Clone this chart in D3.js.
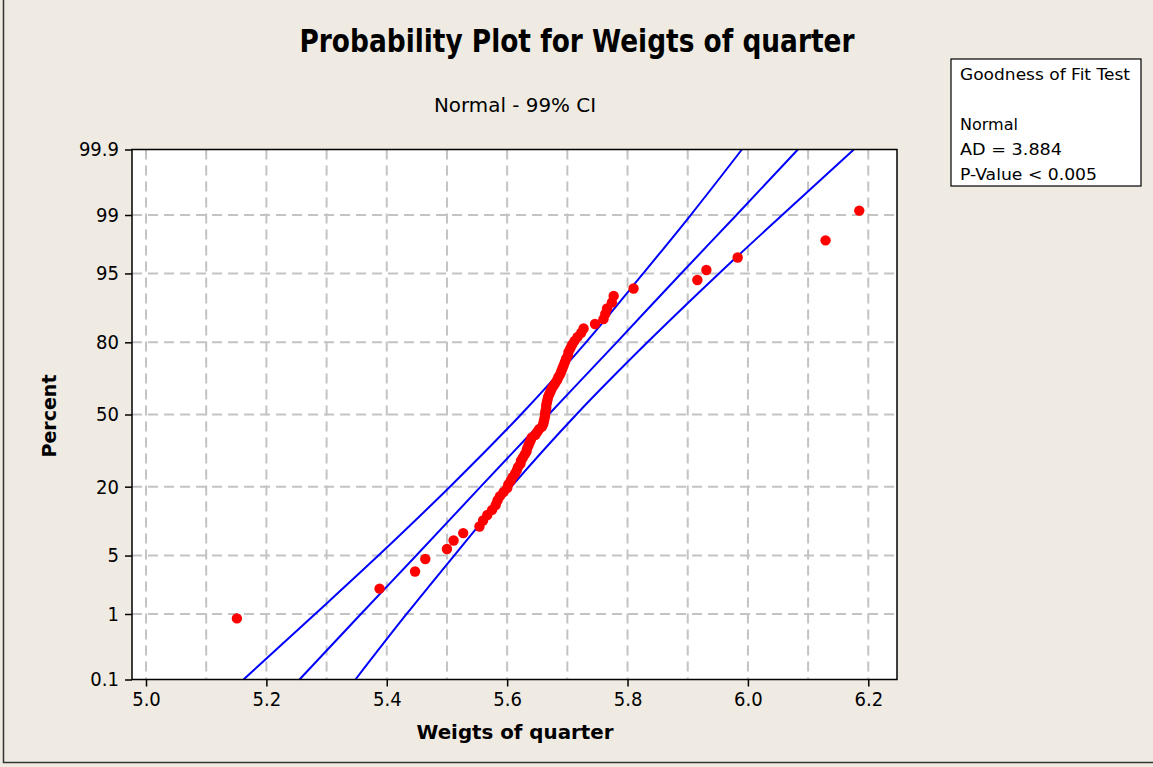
<!DOCTYPE html>
<html lang="en">
<head>
<meta charset="utf-8">
<title>Probability Plot for Weigts of quarter</title>
<script src="https://d3js.org/d3.v7.min.js"></script>
<style>
  body { margin: 0; background: #EFEBE2; }
  text { font-family: "DejaVu Sans", Verdana, sans-serif; fill: #000; }
</style>
</head>
<body>
<script type="text/javascript">

// sorted weights (g)
var weights = [5.151, 5.388, 5.447, 5.464, 5.500, 5.511, 5.527, 5.554, 5.560, 5.567,
               5.575, 5.581, 5.584, 5.588, 5.594, 5.600, 5.602, 5.606, 5.609, 5.613,
               5.616, 5.618, 5.622, 5.623, 5.626, 5.629, 5.632, 5.633, 5.635, 5.637,
               5.639, 5.641, 5.647, 5.650, 5.653, 5.658, 5.660, 5.661, 5.662, 5.663,
               5.663, 5.664, 5.665, 5.665, 5.666, 5.667, 5.668, 5.670, 5.672, 5.674,
               5.677, 5.680, 5.683, 5.685, 5.688, 5.690, 5.692, 5.694, 5.696, 5.698,
               5.701, 5.702, 5.705, 5.708, 5.712, 5.717, 5.723, 5.727, 5.746, 5.760,
               5.763, 5.766, 5.774, 5.777, 5.810, 5.916, 5.931, 5.983, 6.129, 6.185];

// fitted line and 99% CI bands, x read at each percent level
var linePercents = [0.1, 1, 5, 20, 50, 80, 95, 99, 99.9];
var fitX   = [5.255, 5.357, 5.449, 5.556, 5.669, 5.782, 5.889, 5.981, 6.083];
var lowerX = [5.162, 5.281, 5.386, 5.505, 5.623, 5.731, 5.826, 5.905, 5.990];
var upperX = [5.348, 5.433, 5.512, 5.607, 5.715, 5.833, 5.952, 6.057, 6.176];

var percentTicks = [0.1, 1, 5, 20, 50, 80, 95, 99, 99.9];
var xTicks = [5.0, 5.2, 5.4, 5.6, 5.8, 6.0, 6.2];
var xGrid = [5.0, 5.1, 5.2, 5.3, 5.4, 5.5, 5.6, 5.7, 5.8, 5.9, 6.0, 6.1, 6.2];

var legendLines = ["Goodness of Fit Test", "", "Normal", "AD = 3.884", "P-Value < 0.005"];

var w = 1153, h = 767;
var plotL = 132, plotR = 897, plotT = 149.5, plotB = 679.5;

// inverse normal cdf (Acklam)
function probit(p) {
  var a = [-3.969683028665376e+01, 2.209460984245205e+02, -2.759285104469687e+02, 1.383577518672690e+02, -3.066479806614716e+01, 2.506628277459239e+00];
  var b = [-5.447609879822406e+01, 1.615858368580409e+02, -1.556989798598866e+02, 6.680131188771972e+01, -1.328068155288572e+01];
  var c = [-7.784894002430293e-03, -3.223964580411365e-01, -2.400758277161838e+00, -2.549732539343734e+00, 4.374664141464968e+00, 2.938163982698783e+00];
  var d = [7.784695709041462e-03, 3.224671290700398e-01, 2.445134137142996e+00, 3.754408661907416e+00];
  var q, r;
  if (p < 0.02425) {
    q = Math.sqrt(-2 * Math.log(p));
    return (((((c[0]*q+c[1])*q+c[2])*q+c[3])*q+c[4])*q+c[5]) / ((((d[0]*q+d[1])*q+d[2])*q+d[3])*q+1);
  }
  if (p <= 1 - 0.02425) {
    q = p - 0.5; r = q * q;
    return (((((a[0]*r+a[1])*r+a[2])*r+a[3])*r+a[4])*r+a[5])*q / (((((b[0]*r+b[1])*r+b[2])*r+b[3])*r+b[4])*r+1);
  }
  q = Math.sqrt(-2 * Math.log(1 - p));
  return -(((((c[0]*q+c[1])*q+c[2])*q+c[3])*q+c[4])*q+c[5]) / ((((d[0]*q+d[1])*q+d[2])*q+d[3])*q+1);
}

var x = d3.scaleLinear().domain([5.0 - 14 / 601.5, 6.2477]).range([plotL, plotR]);
var z = d3.scaleLinear().domain([probit(0.001), probit(0.999)]).range([plotB, plotT]);
function yp(pct) { return z(probit(pct / 100)); }

var svg = d3.select("body").append("svg")
  .attr("width", w).attr("height", h);

svg.append("rect").attr("width", w).attr("height", h).attr("fill", "#EFEBE2");
// outer frame
svg.append("rect")
  .attr("x", 3.5).attr("y", -5).attr("width", w + 10).attr("height", h + 0.5)
  .attr("fill", "none").attr("stroke", "#333").attr("stroke-width", 1.5);

// plot area
svg.append("rect")
  .attr("x", plotL).attr("y", plotT).attr("width", plotR - plotL).attr("height", plotB - plotT)
  .attr("fill", "#fff");

// dashed grid
svg.selectAll("line.vgrid").data(xGrid).enter().append("line")
  .attr("class", "vgrid")
  .attr("x1", function(d) { return x(d); }).attr("x2", function(d) { return x(d); })
  .attr("y1", plotT).attr("y2", plotB)
  .attr("stroke", "#C3C3C3").attr("stroke-width", 2).attr("stroke-dasharray", "10,6");

svg.selectAll("line.hgrid").data(percentTicks.slice(1, -1)).enter().append("line")
  .attr("class", "hgrid")
  .attr("x1", plotL).attr("x2", plotR)
  .attr("y1", function(d) { return yp(d); }).attr("y2", function(d) { return yp(d); })
  .attr("stroke", "#C3C3C3").attr("stroke-width", 2).attr("stroke-dasharray", "10,6");

// fitted line and confidence bands
var line = d3.line()
  .x(function(d) { return x(d[0]); })
  .y(function(d) { return yp(d[1]); })
  .curve(d3.curveMonotoneY);

[lowerX, fitX, upperX].forEach(function(xs) {
  svg.append("path")
    .datum(xs.map(function(v, i) { return [v, linePercents[i]]; }))
    .attr("d", line)
    .attr("fill", "none").attr("stroke", "#0000FF").attr("stroke-width", 2);
});

// points, plotted at median ranks
var n = weights.length;
svg.selectAll("circle").data(weights).enter().append("circle")
  .attr("cx", function(d) { return x(d); })
  .attr("cy", function(d, i) { return yp((i + 1 - 0.3) / (n + 0.4) * 100); })
  .attr("r", 5.2)
  .attr("fill", "#FF0000");

// plot frame
svg.append("rect")
  .attr("x", plotL).attr("y", plotT).attr("width", plotR - plotL).attr("height", plotB - plotT)
  .attr("fill", "none").attr("stroke", "#000").attr("stroke-width", 1.5);

// axes
var xAxis = d3.axisBottom(x).tickValues(xTicks).tickFormat(d3.format(".1f")).tickSize(7).tickPadding(5);
var gx = svg.append("g").attr("transform", "translate(0," + plotB + ")").call(xAxis);

var yAxis = d3.axisLeft(z)
  .tickValues(percentTicks.map(function(p) { return probit(p / 100); }))
  .tickFormat(function(d, i) { return percentTicks[i]; })
  .tickSize(7).tickPadding(6);
var gy = svg.append("g").attr("transform", "translate(" + plotL + ",0)").call(yAxis);

[gx, gy].forEach(function(g) {
  g.select(".domain").remove();
  g.selectAll(".tick line").attr("stroke", "#000").attr("stroke-width", 1.5);
  g.selectAll(".tick text").attr("font-size", 20).attr("font-family", "DejaVu Sans, sans-serif").attr("fill", "#000")
    .attr("textLength", function() { return this.getComputedTextLength() * 0.9; })
    .attr("lengthAdjust", "spacingAndGlyphs");
});

// titles
svg.append("text")
  .attr("x", 577).attr("y", 52).attr("text-anchor", "middle")
  .attr("font-size", 32).attr("font-weight", "bold")
  .attr("textLength", 555).attr("lengthAdjust", "spacingAndGlyphs")
  .text("Probability Plot for Weigts of quarter");

svg.append("text")
  .attr("x", 515).attr("y", 112).attr("text-anchor", "middle")
  .attr("font-size", 19)
  .attr("textLength", 162).attr("lengthAdjust", "spacingAndGlyphs")
  .text("Normal - 99% CI");

svg.append("text")
  .attr("x", 515).attr("y", 739).attr("text-anchor", "middle")
  .attr("font-size", 20).attr("font-weight", "bold")
  .attr("textLength", 197).attr("lengthAdjust", "spacingAndGlyphs")
  .text("Weigts of quarter");

svg.append("text")
  .attr("transform", "translate(56,416) rotate(-90)")
  .attr("text-anchor", "middle")
  .attr("font-size", 19).attr("font-weight", "bold")
  .attr("textLength", 83).attr("lengthAdjust", "spacingAndGlyphs")
  .text("Percent");

// goodness of fit box
var legend = svg.append("g").attr("transform", "translate(951,59)");
legend.append("rect")
  .attr("width", 190).attr("height", 127)
  .attr("fill", "#fff").attr("stroke", "#000").attr("stroke-width", 1.2);
var legendWidths = [170, 0, 58, 102, 137];
legendLines.forEach(function(t, i) {
  if (!t) return;
  legend.append("text")
    .attr("x", 9).attr("y", 21 + i * 25)
    .attr("font-size", 16.5)
    .attr("textLength", legendWidths[i]).attr("lengthAdjust", "spacingAndGlyphs")
    .text(t);
});

</script>
</body>
</html>
